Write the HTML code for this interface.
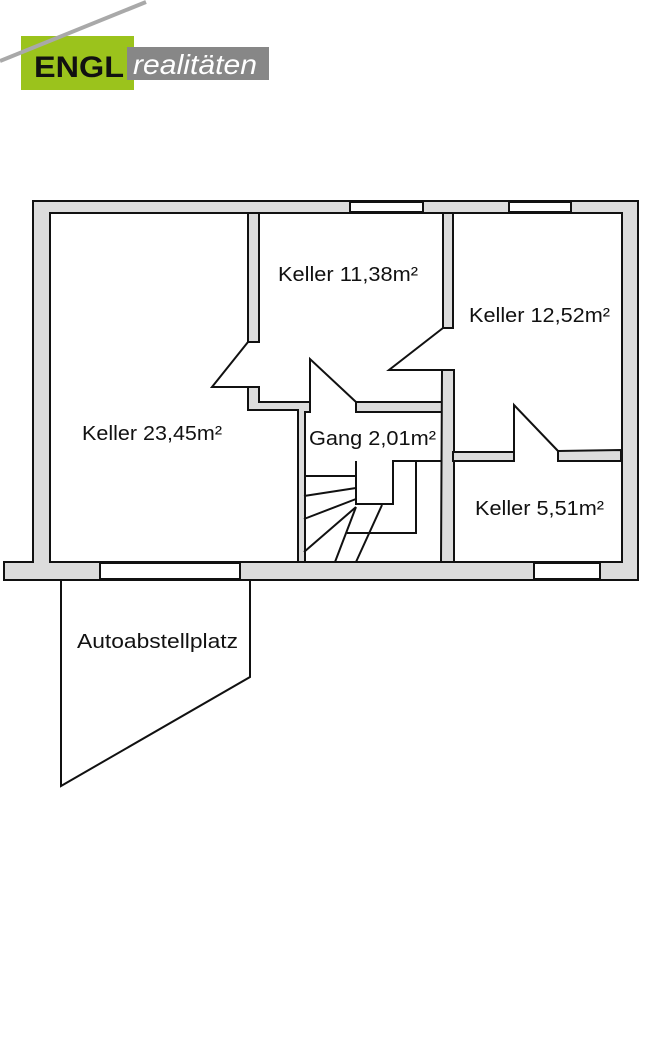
<!DOCTYPE html>
<html><head><meta charset="utf-8"><style>
html,body{margin:0;padding:0;background:#fff;width:670px;height:1054px;overflow:hidden}
svg{display:block}
text{font-family:"Liberation Sans",sans-serif;fill:#111}
</style></head><body>
<svg width="670" height="1054" viewBox="0 0 670 1054" xmlns="http://www.w3.org/2000/svg">
<!-- logo -->
<rect x="21" y="36" width="113" height="54" fill="#9bc31c"/>
<rect x="127" y="47" width="142" height="33" fill="#878787"/>
<line x1="0" y1="61" x2="146" y2="2" stroke="#a9a9a9" stroke-width="4"/>
<text x="34" y="77" font-size="30" font-weight="bold" style="fill:#111" textLength="90" lengthAdjust="spacingAndGlyphs">ENGL</text>
<text x="133" y="74" font-size="28" font-style="italic" style="fill:#fff" textLength="124" lengthAdjust="spacingAndGlyphs">realitäten</text>

<g stroke="#111" stroke-width="2" fill="#dcdcdc" stroke-linejoin="miter">
<path d="M33,201 H638 V580 H4 V562 H33 Z M50,213 V562 H622 V213 Z" fill-rule="evenodd"/>
<rect x="100" y="563" width="140" height="16" fill="#fff"/>
<rect x="534" y="563" width="66" height="16" fill="#fff"/>
<rect x="350" y="202" width="73" height="10" fill="#fff"/>
<rect x="509" y="202" width="62" height="10" fill="#fff"/>
<rect x="248" y="213" width="11" height="129"/>
<path d="M248,387 H259 V402 H310 V412 H305 V562 H298 V410 H248 Z"/>
<rect x="356" y="402" width="86" height="10"/>
<path d="M442,370 H454 V562 H441 Z"/>
<rect x="443" y="213" width="10" height="115"/>
<rect x="453" y="452" width="61" height="9"/>
<path d="M558,451 L621,450 V461 H558 Z"/>
</g>
<g stroke="#111" stroke-width="2" fill="none">
<path d="M248,342 L212,387 H248"/>
<path d="M310,412 V359 L356,402"/>
<path d="M443,328 L389,370 H443"/>
<path d="M514,452 V405 L558,451"/>
<path d="M304,476 H356 V461 M356,461 V504 H393 V461 H441"/>
<path d="M416,461 V533 H347"/>
<path d="M304,496 L356,488 M304,519 L356,499 M304,552 L356,507 M335,562 L356,507 M356,562 L382,505"/>
<path d="M61,580 V786 L250,677 V580"/>
</g>
<g font-size="20">
<text x="82" y="440" textLength="140" lengthAdjust="spacingAndGlyphs">Keller 23,45m²</text>
<text x="278" y="281" textLength="140" lengthAdjust="spacingAndGlyphs">Keller 11,38m²</text>
<text x="469" y="322" textLength="141" lengthAdjust="spacingAndGlyphs">Keller 12,52m²</text>
<text x="309" y="445" textLength="127" lengthAdjust="spacingAndGlyphs">Gang 2,01m²</text>
<text x="475" y="515" textLength="129" lengthAdjust="spacingAndGlyphs">Keller 5,51m²</text>
<text x="77" y="648" textLength="161" lengthAdjust="spacingAndGlyphs">Autoabstellplatz</text>
</g>
</svg>
</body></html>
